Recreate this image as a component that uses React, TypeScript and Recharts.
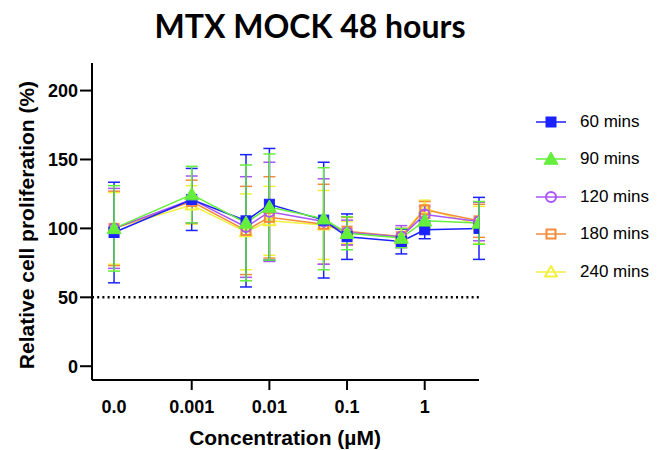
import React from "react";
import {
  LineChart,
  Line,
  XAxis,
  YAxis,
  ErrorBar,
  ReferenceLine,
} from "recharts";

// concentrations in µM (0 = vehicle, drawn one decade left of 0.001)
const concentrations = [0, 0.001, 0.005, 0.01, 0.05, 0.1, 0.5, 1, 5];
const xTicks = [0.0001, 0.001, 0.01, 0.1, 1];
const xTickLabels = ["0.0", "0.001", "0.01", "0.1", "1"];
const yTicks = [0, 50, 100, 150, 200];

const mins60 = [97, 121, 105.5, 117.5, 106, 94, 90.5, 99, 100];
const sd60 = [36.5, 22.5, 48, 40.5, 42, 16.5, 9, 6.5, 22.5];
const mins90 = [100, 124.5, 104, 115.5, 107, 96.5, 93, 105.5, 104];
const sd90 = [31, 20.5, 42, 38.5, 37, 12, 7, 5, 15.5];
const mins120 = [100, 121, 101, 112, 105, 97, 94, 110, 105];
const sd120 = [29, 17, 36.5, 36, 31, 9, 8, 6, 14];
const mins180 = [100, 119.5, 98.5, 108, 103, 98, 94, 113.5, 105.5];
const sd180 = [27, 15.5, 32, 29.5, 29, 10, 6, 6, 12];
const mins240 = [100, 117, 97.5, 105.5, 102.5, 97, 94.5, 114.5, 102.5];
const sd240 = [26, 14, 27.5, 25, 25, 8, 5, 6, 13.5];

const series = [
  { key: "m60", err: "e60", name: "60 mins", color: "#1a22ff", shape: "square", filled: true },
  { key: "m90", err: "e90", name: "90 mins", color: "#66ee3c", shape: "triangle", filled: true },
  { key: "m120", err: "e120", name: "120 mins", color: "#a855f7", shape: "circle", filled: false },
  { key: "m180", err: "e180", name: "180 mins", color: "#f58a3a", shape: "square", filled: false },
  { key: "m240", err: "e240", name: "240 mins", color: "#f2f03c", shape: "triangle", filled: false },
];

const data = concentrations.map((c, i) => ({
  x: c === 0 ? 0.0001 : c,
  m60: mins60[i],
  e60: sd60[i],
  m90: mins90[i],
  e90: sd90[i],
  m120: mins120[i],
  e120: sd120[i],
  m180: mins180[i],
  e180: sd180[i],
  m240: mins240[i],
  e240: sd240[i],
}));

const FONT = "'Liberation Sans', Arial, Helvetica, sans-serif";
const AXIS_Y = 380;

function Marker({ shape, filled, color, cx, cy }: any) {
  const fill = filled ? color : "none";
  const sw = filled ? 1 : 2;
  if (shape === "square") {
    const s = filled ? 10 : 9;
    return <rect x={cx - s / 2} y={cy - s / 2} width={s} height={s} fill={fill} stroke={color} strokeWidth={sw} />;
  }
  if (shape === "triangle") {
    const s = filled ? 7 : 6;
    return (
      <polygon
        points={`${cx},${cy - s} ${cx - s},${cy + s * 0.75} ${cx + s},${cy + s * 0.75}`}
        fill={fill}
        stroke={color}
        strokeWidth={sw}
        strokeLinejoin="round"
      />
    );
  }
  return <circle cx={cx} cy={cy} r={5} fill={fill} stroke={color} strokeWidth={sw} />;
}

const XTick = ({ x, payload }: any) => {
  const idx = xTicks.indexOf(payload.value);
  return (
    <g>
      {idx > 0 && <line x1={x} x2={x} y1={AXIS_Y} y2={AXIS_Y + 10} stroke="#000" strokeWidth={2} />}
      <text x={x} y={413} textAnchor="middle" fontFamily={FONT} fontWeight="bold" fontSize={18} fill="#000">
        {xTickLabels[idx]}
      </text>
    </g>
  );
};

const drawOrder = [4, 3, 2, 0, 1];

export default function App() {
  return (
    <div style={{ position: "absolute", left: 0, top: 0, width: 666, height: 450, background: "#fff" }}>
      <div
        style={{
          position: "absolute",
          left: 0,
          width: 620,
          top: 6,
          textAlign: "center",
          fontFamily: "Lato, 'Open Sans', sans-serif",
          fontWeight: 700,
          fontSize: 32,
          color: "#000",
        }}
      >
        MTX MOCK 48 hours
      </div>
      <LineChart
        width={666}
        height={450}
        data={data}
        margin={{ top: 63, right: 187, bottom: 30, left: 32 }}
      >
        <XAxis
          dataKey="x"
          type="number"
          scale="log"
          domain={[5.2e-5, 5]}
          allowDataOverflow
          ticks={xTicks}
          tick={<XTick />}
          tickLine={false}
          height={40}
          axisLine={{ stroke: "#000", strokeWidth: 2 }}
          label={{
            content: () => (
              <text x={285} y={445} textAnchor="middle" fontFamily={FONT} fontWeight="bold" fontSize={21} fill="#000">
                Concentration (µM)
              </text>
            ),
          }}
        />
        <YAxis
          type="number"
          domain={[-10, 220]}
          ticks={yTicks}
          width={60}
          tickSize={12}
          interval={0}
          axisLine={{ stroke: "#000", strokeWidth: 2 }}
          tickLine={{ stroke: "#000", strokeWidth: 2 }}
          tick={{ fontFamily: FONT, fontWeight: "bold", fontSize: 18, fill: "#000" }}
          label={{
            content: () => (
              <text
                x={26}
                y={225}
                transform="rotate(-90 26 225)"
                textAnchor="middle"
                dominantBaseline="central"
                fontFamily={FONT}
                fontWeight="bold"
                fontSize={21}
                fill="#000"
              >
                Relative cell proliferation (%)
              </text>
            ),
          }}
        />
        <ReferenceLine y={50} stroke="#000" strokeWidth={2.5} strokeDasharray="2 3.2" ifOverflow="extendDomain" />
        {drawOrder.map((i) => {
          const s = series[i];
          return (
            <Line
              key={s.key}
              dataKey={s.key}
              name={s.name}
              stroke={s.color}
              strokeWidth={1.5}
              isAnimationActive={false}
              dot={(p: any) => (
                <Marker key={`${s.key}-${p.index}`} shape={s.shape} filled={s.filled} color={s.color} cx={p.cx} cy={p.cy} />
              )}
              activeDot={false}
            >
              <ErrorBar dataKey={s.err} width={6} stroke={s.color} strokeWidth={1.5} direction="y" />
            </Line>
          );
        })}
      </LineChart>
      <div style={{ position: "absolute", left: 534, top: 103 }}>
        {series.map((s) => (
          <div key={s.key} style={{ display: "flex", alignItems: "center", height: 37.5 }}>
            <svg width={34} height={16}>
              <line x1={2} x2={32} y1={8} y2={8} stroke={s.color} strokeWidth={1.5} />
              <Marker shape={s.shape} filled={s.filled} color={s.color} cx={17} cy={8} />
            </svg>
            <span style={{ marginLeft: 12, fontFamily: FONT, fontSize: 17, color: "#000" }}>{s.name}</span>
          </div>
        ))}
      </div>
    </div>
  );
}
